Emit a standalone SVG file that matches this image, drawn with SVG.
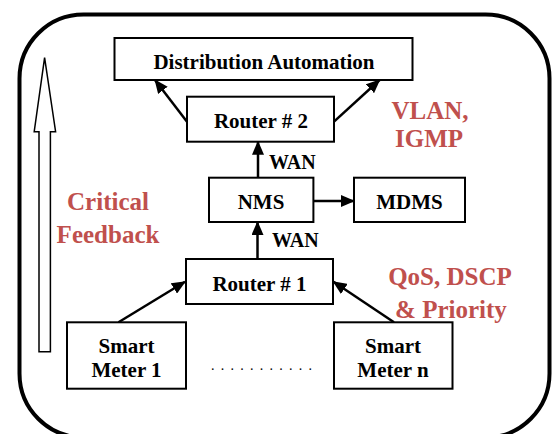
<svg xmlns="http://www.w3.org/2000/svg" width="552" height="434" viewBox="0 0 552 434">
  <style>
    .box { fill: #ffffff; stroke: #000000; stroke-width: 2; }
    .lbl { font-family: "Liberation Serif", "Times New Roman", serif; font-weight: bold; font-size: 21px; fill: #000000; text-anchor: middle; }
    .wan { font-family: "Liberation Serif", "Times New Roman", serif; font-weight: bold; font-size: 20px; fill: #000000; }
    .note { font-family: "Liberation Serif", "Times New Roman", serif; font-weight: bold; font-size: 25px; fill: #c0504d; text-anchor: middle; }
    .link { fill: none; stroke: #000000; stroke-width: 2.5; marker-end: url(#head); }
  </style>
  <defs>
    <marker id="head" viewBox="0 0 14 12" refX="13" refY="6" markerWidth="14" markerHeight="12" markerUnits="userSpaceOnUse" orient="auto">
      <path d="M0,0 L14,6 L0,12 Z" fill="#000000"/>
    </marker>
  </defs>

  <rect width="552" height="434" fill="#ffffff"/>

  <!-- outer frame -->
  <rect x="19.5" y="14.5" width="530" height="423" rx="64" ry="64" fill="none" stroke="#000000" stroke-width="4"/>

  <!-- hollow upward arrow -->
  <polygon points="39,351.7 50.4,351.7 50.4,131.7 55.6,131.7 44.6,57.7 34.2,131.7 39,131.7" fill="#ffffff" stroke="#000000" stroke-width="1.5"/>

  <!-- side notes -->
  <text class="note" x="108" y="210">Critical</text>
  <text class="note" x="108" y="243">Feedback</text>
  <text class="note" x="430" y="119">VLAN,</text>
  <text class="note" x="429" y="147">IGMP</text>
  <text class="note" x="450" y="285">QoS, DSCP</text>
  <text class="note" x="451" y="318">&amp; Priority</text>

  <!-- connectors -->
  <g id="connectors">
    <line class="link" x1="187" y1="121.7" x2="155" y2="80"/>
    <line class="link" x1="334" y1="121.7" x2="379.6" y2="80"/>
    <line class="link" x1="258" y1="177.7" x2="258" y2="141.7"/>
    <line class="link" x1="313.4" y1="201" x2="354" y2="201"/>
    <line class="link" x1="257.5" y1="259" x2="257.5" y2="222"/>
    <line class="link" x1="118.5" y1="322.3" x2="185" y2="281.7"/>
    <line class="link" x1="394" y1="322.3" x2="333.5" y2="281.7"/>
    <text class="wan" x="269" y="169">WAN</text>
    <text class="wan" x="272" y="246.5">WAN</text>
  </g>

  <g id="distribution-automation">
    <rect class="box" x="114.5" y="38" width="298" height="42"/>
    <text class="lbl" x="264" y="68.5">Distribution Automation</text>
  </g>
  <g id="router-2">
    <rect class="box" x="187" y="96.7" width="147" height="45"/>
    <text class="lbl" x="261" y="127.5">Router # 2</text>
  </g>
  <g id="nms">
    <rect class="box" x="209" y="177.7" width="104.4" height="44.3"/>
    <text class="lbl" x="261" y="208.5">NMS</text>
  </g>
  <g id="mdms">
    <rect class="box" x="354" y="177.7" width="111" height="44.3"/>
    <text class="lbl" x="409.5" y="208.5">MDMS</text>
  </g>
  <g id="router-1">
    <rect class="box" x="186" y="259" width="147" height="45"/>
    <text class="lbl" x="259.5" y="291">Router # 1</text>
  </g>
  <g id="smart-meter-1">
    <rect class="box" x="67" y="322.3" width="119" height="66.4"/>
    <text class="lbl" x="126.5" y="353">Smart</text>
    <text class="lbl" x="126.5" y="377">Meter 1</text>
  </g>
  <g id="smart-meter-n">
    <rect class="box" x="334" y="322.3" width="118.5" height="66.4"/>
    <text class="lbl" x="393" y="353">Smart</text>
    <text class="lbl" x="393" y="377">Meter n</text>
  </g>

  <!-- ellipsis between meters -->
  <text x="211" y="370" font-family="'Liberation Serif', 'Times New Roman', serif" font-size="14" letter-spacing="6.25" fill="#000000">...........</text>
</svg>
